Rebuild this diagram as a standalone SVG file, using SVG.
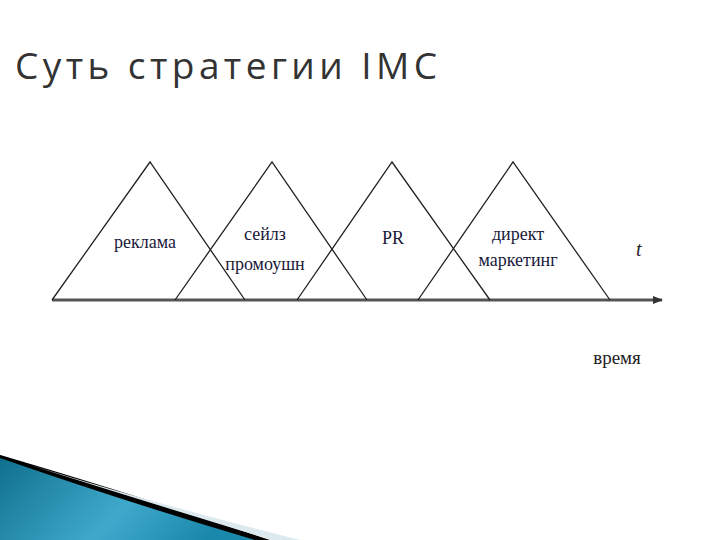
<svg xmlns="http://www.w3.org/2000/svg" width="720" height="540" viewBox="0 0 720 540">
<style>
.tri{fill:none;stroke:#222;stroke-width:1.3}
.lbl{font-family:"Liberation Serif",serif;font-size:18px;fill:#1a1a3a;text-anchor:middle}
</style>
<defs>
<linearGradient id="g" x1="0" y1="0" x2="1" y2="0.3">
<stop offset="0" stop-color="#0f6f8c"/><stop offset="0.6" stop-color="#3fa9cc"/><stop offset="1" stop-color="#1a88aa"/>
</linearGradient>
<marker id="ah" markerWidth="10" markerHeight="8" refX="9" refY="4" orient="auto" markerUnits="userSpaceOnUse"><path d="M0,0 L10,4 L0,8 Z" fill="#333"/></marker>
</defs>
<rect width="720" height="540" fill="#fff"/>
<text x="15" y="79" font-family="Open Sans,DejaVu Sans,sans-serif" font-size="37" fill="#333" textLength="422" lengthAdjust="spacing">Суть стратегии IMC</text>
<g id="swoosh">
<path d="M0,455 L0,540 L260,540 Z" fill="url(#g)"/>
<path d="M0,455 Q120,490 270,540 L255,540 Q120,500 0,458 Z" fill="#000"/>
<path d="M40,468 Q160,505 300,540 L272,540 Q140,500 30,465 Z" fill="#dce9ee"/>
</g>
<g id="connectors">
<line x1="52" y1="300" x2="662" y2="300" stroke="#555" stroke-width="3" marker-end="url(#ah)"/>
</g>
<g id="reklama"><path class="tri" d="M52,300 L150,162 L245,300"/><text class="lbl" x="145" y="248">реклама</text></g>
<g id="sales"><path class="tri" d="M175,300 L272,162 L367,300"/><text class="lbl" x="265" y="240">сейлз</text><text class="lbl" x="265" y="270">промоушн</text></g>
<g id="pr"><path class="tri" d="M297,300 L392,162 L490,300"/><text class="lbl" x="393" y="244">PR</text></g>
<g id="direct"><path class="tri" d="M418,300 L513,162 L610,300"/><text class="lbl" x="518" y="240">директ</text><text class="lbl" x="518" y="266">маркетинг</text></g>
<text x="636" y="256" font-family="Liberation Serif,serif" font-style="italic" font-size="20" fill="#222">t</text>
<text x="617" y="364" font-family="Liberation Serif,serif" font-size="19" fill="#222" text-anchor="middle">время</text>
</svg>
